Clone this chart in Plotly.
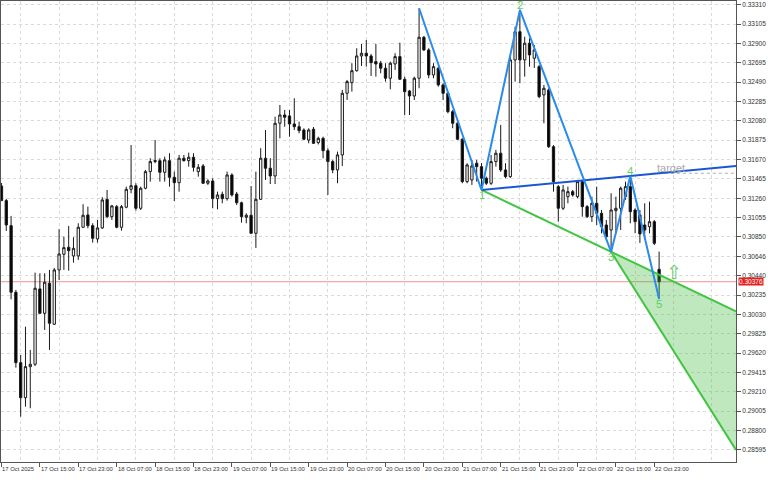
import plotly.graph_objects as go

# ---- OHLC data (hourly bars, 17 Oct 2025 07:00 -> 23 Oct 2025 00:00) ----
opens = [0.31390, 0.31235, 0.30970, 0.30265, 0.29519, 0.29148, 0.29477, 0.29502, 0.30300, 0.30042,
         0.30360, 0.29926, 0.30501, 0.30667, 0.30741, 0.30649, 0.30649, 0.30953, 0.31083, 0.30970,
         0.30829, 0.30946, 0.31249, 0.31065, 0.31171, 0.30953, 0.31165, 0.31355, 0.31393, 0.31154,
         0.31366, 0.31542, 0.31648, 0.31658, 0.31535, 0.31658, 0.31482, 0.31425, 0.31684, 0.31658,
         0.31694, 0.31542, 0.31602, 0.31419, 0.31443, 0.31256, 0.31302, 0.31256, 0.31507, 0.31305,
         0.31213, 0.31059, 0.31080, 0.30889, 0.31249, 0.31684, 0.31578, 0.31496, 0.32054, 0.32142,
         0.32132, 0.32047, 0.32018, 0.31983, 0.31877, 0.31991, 0.31849, 0.31895, 0.31764, 0.31648,
         0.31560, 0.31719, 0.32372, 0.32484, 0.32611, 0.32767, 0.32796, 0.32767, 0.32707, 0.32690,
         0.32637, 0.32531, 0.32682, 0.32760, 0.32520, 0.32396, 0.32343, 0.32531, 0.32965, 0.32831,
         0.32566, 0.32637, 0.32460, 0.32372, 0.32177, 0.32054, 0.31885, 0.31436, 0.31454, 0.31631,
         0.31595, 0.31472, 0.31419, 0.31648, 0.31737, 0.31560, 0.31489, 0.32725, 0.33024, 0.32725,
         0.32902, 0.32743, 0.32654, 0.32354, 0.32407, 0.31806, 0.31383, 0.31154, 0.31277, 0.31330,
         0.31277, 0.31436, 0.31171, 0.31065, 0.31207, 0.31101, 0.30977, 0.30924, 0.31129, 0.31154,
         0.31277, 0.31383, 0.31136, 0.31083, 0.30977, 0.30959, 0.31012, 0.30508]
highs = [0.31422, 0.31253, 0.31073, 0.30289, 0.29601, 0.29900, 0.29654, 0.30472, 0.30466, 0.30466,
         0.30501, 0.30522, 0.30932, 0.30853, 0.30967, 0.30847, 0.30995, 0.31197, 0.31171, 0.30995,
         0.31030, 0.31271, 0.31348, 0.31189, 0.31189, 0.31189, 0.31383, 0.31824, 0.31419, 0.31383,
         0.31560, 0.31684, 0.31877, 0.31684, 0.31701, 0.31737, 0.31542, 0.31719, 0.31719, 0.31743,
         0.31737, 0.31623, 0.31623, 0.31461, 0.31472, 0.31330, 0.31330, 0.31542, 0.31525, 0.31327,
         0.31224, 0.31101, 0.31390, 0.31542, 0.31790, 0.31983, 0.31684, 0.32124, 0.32248, 0.32195,
         0.32195, 0.32319, 0.32071, 0.32001, 0.32001, 0.32015, 0.31912, 0.31912, 0.31790, 0.31666,
         0.31754, 0.32407, 0.32513, 0.32690, 0.32849, 0.32894, 0.32936, 0.32788, 0.32894, 0.32714,
         0.32690, 0.32707, 0.32796, 0.32908, 0.32548, 0.32407, 0.32548, 0.33272, 0.32979, 0.32849,
         0.32690, 0.32654, 0.32478, 0.32389, 0.32195, 0.32071, 0.31895, 0.31631, 0.31666, 0.31666,
         0.31631, 0.31489, 0.31719, 0.31772, 0.32036, 0.31631, 0.32760, 0.33077, 0.33254, 0.32971,
         0.32954, 0.32883, 0.32672, 0.32460, 0.32425, 0.31824, 0.31401, 0.31401, 0.31383, 0.31348,
         0.31454, 0.31454, 0.31189, 0.31277, 0.31383, 0.31136, 0.31030, 0.31313, 0.31277, 0.31383,
         0.31436, 0.31496, 0.31154, 0.31136, 0.31207, 0.31224, 0.31030, 0.30695]
lows = [0.31231, 0.30914, 0.30190, 0.29466, 0.28947, 0.29053, 0.29036, 0.29484, 0.30035, 0.29865,
        0.29654, 0.29918, 0.30395, 0.30501, 0.30493, 0.30578, 0.30607, 0.30946, 0.30942, 0.30790,
        0.30790, 0.30935, 0.31048, 0.31030, 0.30942, 0.30917, 0.31154, 0.31313, 0.31129, 0.31136,
        0.31355, 0.31436, 0.31631, 0.31436, 0.31436, 0.31383, 0.31231, 0.31330, 0.31648, 0.31595,
        0.31542, 0.31489, 0.31411, 0.31401, 0.31154, 0.31143, 0.31207, 0.31235, 0.31277, 0.31189,
        0.31002, 0.30995, 0.30882, 0.30734, 0.31242, 0.31454, 0.31411, 0.31411, 0.31895, 0.32018,
        0.31912, 0.31983, 0.31948, 0.31877, 0.31842, 0.31835, 0.31830, 0.31684, 0.31295, 0.31525,
        0.31419, 0.31602, 0.32301, 0.32389, 0.32601, 0.32661, 0.32654, 0.32555, 0.32548, 0.32584,
        0.32495, 0.32414, 0.32619, 0.32513, 0.32142, 0.32142, 0.32301, 0.32425, 0.32820, 0.32531,
        0.32531, 0.32442, 0.32301, 0.32160, 0.32001, 0.31877, 0.31419, 0.31419, 0.31401, 0.31436,
        0.31348, 0.31401, 0.31401, 0.31595, 0.31539, 0.31472, 0.31475, 0.32495, 0.32478, 0.32548,
        0.32654, 0.32640, 0.32319, 0.32054, 0.31793, 0.31330, 0.31012, 0.31136, 0.31207, 0.31277,
        0.31260, 0.31065, 0.31051, 0.31009, 0.30977, 0.30889, 0.30818, 0.30693, 0.30889, 0.30924,
        0.31242, 0.30995, 0.30889, 0.30787, 0.30818, 0.30889, 0.30765, 0.30194]
closes = [0.31235, 0.30977, 0.30265, 0.29519, 0.29148, 0.29477, 0.29502, 0.30307, 0.30042, 0.30370,
          0.29936, 0.30501, 0.30670, 0.30737, 0.30705, 0.30730, 0.30953, 0.31080, 0.30970, 0.30836,
          0.30946, 0.31242, 0.31065, 0.31179, 0.30953, 0.31171, 0.31355, 0.31393, 0.31154, 0.31366,
          0.31542, 0.31648, 0.31658, 0.31535, 0.31666, 0.31482, 0.31425, 0.31684, 0.31658, 0.31694,
          0.31588, 0.31588, 0.31419, 0.31443, 0.31256, 0.31295, 0.31256, 0.31507, 0.31295, 0.31213,
          0.31065, 0.31080, 0.30889, 0.31249, 0.31684, 0.31578, 0.31496, 0.32054, 0.32142, 0.32118,
          0.32047, 0.32018, 0.31976, 0.31885, 0.31983, 0.31842, 0.31895, 0.31764, 0.31648, 0.31560,
          0.31719, 0.32372, 0.32495, 0.32611, 0.32767, 0.32796, 0.32767, 0.32696, 0.32682, 0.32637,
          0.32531, 0.32690, 0.32760, 0.32520, 0.32389, 0.32343, 0.32531, 0.32965, 0.32831, 0.32566,
          0.32654, 0.32460, 0.32372, 0.32177, 0.32054, 0.31885, 0.31436, 0.31613, 0.31602, 0.31595,
          0.31472, 0.31419, 0.31648, 0.31737, 0.31560, 0.31489, 0.32725, 0.33024, 0.32725, 0.32902,
          0.32778, 0.32831, 0.32336, 0.32425, 0.31806, 0.31436, 0.31154, 0.31348, 0.31330, 0.31295,
          0.31436, 0.31171, 0.31065, 0.31207, 0.31101, 0.30959, 0.30853, 0.31136, 0.31154, 0.31366,
          0.31383, 0.31118, 0.31012, 0.30882, 0.30924, 0.31012, 0.30783, 0.30376]

# time-axis labels (every 8 bars)
time_labels = ["17 Oct 2025", "17 Oct 15:00", "17 Oct 23:00", "18 Oct 07:00", "18 Oct 15:00",
               "18 Oct 23:00", "19 Oct 07:00", "19 Oct 15:00", "19 Oct 23:00", "20 Oct 07:00",
               "20 Oct 15:00", "20 Oct 23:00", "21 Oct 07:00", "21 Oct 15:00", "21 Oct 23:00",
               "22 Oct 07:00", "22 Oct 15:00", "22 Oct 23:00"]
label_step = 8

price_ticks = [0.33310, 0.33105, 0.32900, 0.32695, 0.32490, 0.32285, 0.32080, 0.31875, 0.31670,
               0.31465, 0.31260, 0.31055, 0.30850, 0.30645, 0.30440, 0.30235, 0.30030, 0.29825,
               0.29620, 0.29415, 0.29210, 0.29005, 0.28800, 0.28595]
price_tick_text = ["0.33310", "0.33105", "0.32900", "0.32695", "0.32490", "0.32285", "0.32080",
                   "0.31875", "0.31670", "0.31465", "0.31260", "0.31055", "0.30850", "0.30646",
                   "0.30440", "0.30235", "0.30030", "0.29825", "0.29620", "0.29415", "0.29210",
                   "0.29005", "0.28800", "0.28595"]

# Wolfe wave pivots (bar index, price)
wave_bars = [87, 100, 108, 127, 131, 137]
wave_prices = [0.33272, 0.31348, 0.33254, 0.30693, 0.31496, 0.30194]
wave_labels = ["", "1", "2", "3", "4", "5"]
zone_end_price = 0.28595
target_price = 0.31525
target_bar = 136
signal_bar = 140
signal_price = 0.30480

# ---- layout constants ----
X_MIN, X_MAX = -0.1, 153.02
Y_MIN, Y_MAX = 0.28467, 0.33349
GREEN = "#43C443"
LABEL_GREEN = "#5FCF5F"
FONT = "Liberation Sans"

bars = list(range(len(closes)))
fig = go.Figure()

# Wolfe "5" zone fill
b1, b3, b4 = wave_bars[1], wave_bars[3], wave_bars[4]
p1, p3, p4 = wave_prices[1], wave_prices[3], wave_prices[4]
slope13 = (p3 - p1) / (b3 - b1)
slope14 = (p4 - p1) / (b4 - b1)
end13 = p1 + slope13 * (X_MAX - b1)
end14 = p1 + slope14 * (X_MAX - b1)

fig.add_trace(go.Scatter(x=[b3, X_MAX, X_MAX, b3], y=[p3, end13, zone_end_price, p3],
                         fill="toself", fillcolor="rgba(60,185,60,0.33)",
                         line=dict(width=0), mode="lines", hoverinfo="skip", showlegend=False))

fig.add_trace(go.Candlestick(
    x=bars, open=opens, high=highs, low=lows, close=closes,
    increasing=dict(line=dict(color="#1a1a1a", width=1), fillcolor="#ffffff"),
    decreasing=dict(line=dict(color="#1a1a1a", width=1), fillcolor="#000000"),
    whiskerwidth=0, showlegend=False, hoverinfo="skip"))

# green lines
fig.add_trace(go.Scatter(x=[b1, X_MAX], y=[p1, end13], mode="lines",
                         line=dict(color=GREEN, width=2), showlegend=False, hoverinfo="skip"))
fig.add_trace(go.Scatter(x=[b3, X_MAX], y=[p3, zone_end_price], mode="lines",
                         line=dict(color=GREEN, width=2), showlegend=False, hoverinfo="skip"))
# target dotted line
fig.add_trace(go.Scatter(x=[target_bar - 0.3, X_MAX], y=[target_price, target_price], mode="lines",
                         line=dict(color="#AFAFAF", width=1, dash="dot"), showlegend=False,
                         hoverinfo="skip"))
# 1-4 line
fig.add_trace(go.Scatter(x=[b1, X_MAX], y=[p1, end14], mode="lines",
                         line=dict(color="#1B56D2", width=2), showlegend=False, hoverinfo="skip"))
# zigzag
fig.add_trace(go.Scatter(x=wave_bars, y=wave_prices, mode="lines",
                         line=dict(color="#2A8BEE", width=2), showlegend=False, hoverinfo="skip"))

annotations = []
for k, lab in enumerate(time_labels):
    annotations.append(dict(x=k * label_step, y=0, xref="x", yref="paper", text=lab,
                            showarrow=False, xanchor="left", yanchor="top", xshift=-1, yshift=-2,
                            font=dict(family=FONT, size=5.9, color="#333333")))
for b, p, lab, k in zip(wave_bars, wave_prices, wave_labels, range(len(wave_bars))):
    if not lab:
        continue
    peak = k in (2, 4)
    annotations.append(dict(x=b, y=p, text=lab, showarrow=False,
                            yanchor="bottom" if peak else "top",
                            yshift=-3 if peak else 3,
                            font=dict(family=FONT, size=11.5, color=LABEL_GREEN)))
annotations.append(dict(x=target_bar + 0.2, y=target_price, text="target", showarrow=False,
                        xanchor="left", yanchor="bottom", yshift=-3,
                        font=dict(family=FONT, size=11, color="#A8A8A8")))
annotations.append(dict(x=signal_bar, y=signal_price, text="⇧", showarrow=False,
                        font=dict(family="DejaVu Sans", size=19, color="#66CC66")))
annotations.append(dict(x=1, xref="paper", y=closes[-1], text=f"{closes[-1]:.5f}",
                        showarrow=False, xanchor="left", xshift=2, bgcolor="#E5201E",
                        borderpad=0, font=dict(family=FONT, size=6.5, color="#ffffff")))

fig.update_layout(
    width=768, height=480,
    margin=dict(l=1, r=32, t=1, b=18),
    paper_bgcolor="#ffffff", plot_bgcolor="#ffffff",
    boxgap=0.32,
    annotations=annotations,
    shapes=[dict(type="line", xref="paper", x0=0, x1=1, y0=closes[-1], y1=closes[-1],
                 line=dict(color="#EE9090", width=1), layer="below")],
    xaxis=dict(range=[X_MIN, X_MAX], rangeslider=dict(visible=False),
               tickmode="array", tickvals=[label_step * k + 4 for k in range(19)],
               showticklabels=False, ticks="",
               showgrid=True, gridcolor="#DADADA", griddash="dot", gridwidth=1,
               minor=dict(tickmode="array", tickvals=[label_step * k for k in range(len(time_labels))],
                          ticks="outside", ticklen=4, tickcolor="#555555", showgrid=False),
               showline=True, mirror=True, linecolor="#555555", linewidth=1, zeroline=False),
    yaxis=dict(range=[Y_MIN, Y_MAX], side="right", tickmode="array",
               tickvals=price_ticks, ticktext=price_tick_text,
               ticks="outside", ticklen=4, tickcolor="#555555",
               tickfont=dict(family=FONT, size=6.5, color="#333333"),
               showgrid=True, gridcolor="#DADADA", griddash="dot", gridwidth=1,
               showline=True, mirror=True, linecolor="#555555", linewidth=1, zeroline=False),
    font=dict(family=FONT),
)

fig.write_html("out.html", config={"displayModeBar": False},
               post_script="document.body.style.margin='0px';document.body.style.overflow='hidden';")
